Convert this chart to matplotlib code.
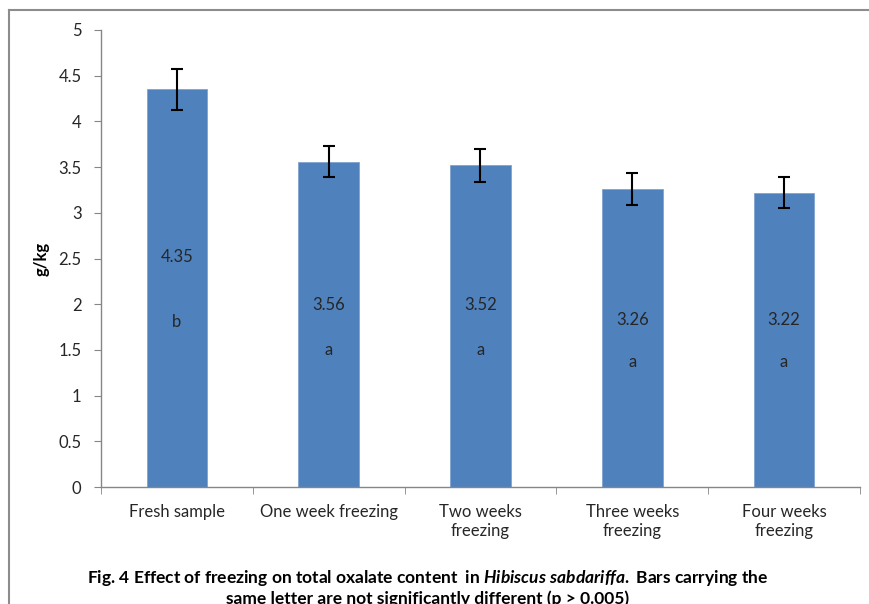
"""Bar chart: effect of freezing on total oxalate content in Hibiscus sabdariffa."""

import matplotlib
matplotlib.use("Agg")
import matplotlib.pyplot as plt
from matplotlib.lines import Line2D

# data
categories = ["Fresh sample", "One week freezing", "Two weeks\nfreezing",
              "Three weeks\nfreezing", "Four weeks\nfreezing"]
oxalate = [4.35, 3.56, 3.52, 3.26, 3.22]
errors = [0.22, 0.17, 0.18, 0.17, 0.17]
value_labels = ["4.35", "3.56", "3.52", "3.26", "3.22"]
letters = ["b", "a", "a", "a", "a"]
yticks = [0, 0.5, 1, 1.5, 2, 2.5, 3, 3.5, 4, 4.5, 5]

# label heights inside the bars (layout)
value_label_y = [2.52, 1.99, 1.99, 1.83, 1.83]
letter_y = [1.80, 1.50, 1.50, 1.37, 1.37]

plt.rcParams["font.family"] = ["Lato", "DejaVu Sans"]
plt.rcParams["mathtext.fontset"] = "custom"
plt.rcParams["mathtext.it"] = "Lato:italic:bold"
plt.rcParams["mathtext.rm"] = "Lato:bold"

axis_grey = "#868686"
bar_blue = "#4F81BD"
text_col = "#262626"

fig = plt.figure(figsize=(8.7, 6.04), dpi=100)
ax = fig.add_axes([101 / 870, 1 - 487 / 604, (860 - 101) / 870, (487 - 30) / 604])

x = list(range(len(categories)))
ax.bar(x, oxalate, width=0.4, color=bar_blue, edgecolor="#7FA3D0", linewidth=0.6, zorder=2)
ax.errorbar(x, oxalate, yerr=errors, fmt="none", ecolor="black",
            elinewidth=1.5, capsize=4, capthick=1.5, zorder=3)

for xi, lab, ly, let, lty in zip(x, value_labels, value_label_y, letters, letter_y):
    ax.text(xi, ly, lab, ha="center", va="center", fontsize=12, color=text_col, zorder=4)
    ax.text(xi, lty, let, ha="center", va="center", fontsize=12, color=text_col, zorder=4)

ax.set_xlim(-0.5, len(categories) - 0.5)
ax.set_ylim(0, 5)
ax.set_yticks(yticks)
ax.set_yticklabels([f"{t:g}" for t in yticks])
ax.tick_params(axis="y", direction="out", length=5, color=axis_grey,
               labelsize=12, labelcolor=text_col, pad=9)

# category labels centred on bars, tick marks between categories
ax.set_xticks(x)
ax.set_xticklabels(categories, fontsize=12, color=text_col, linespacing=1.25)
ax.tick_params(axis="x", length=0, pad=12)
ax.set_xticks([i - 0.5 for i in range(len(categories) + 1)], minor=True)
ax.tick_params(axis="x", which="minor", direction="out", length=5, color=axis_grey)

for side in ["top", "right"]:
    ax.spines[side].set_visible(False)
for side in ["left", "bottom"]:
    ax.spines[side].set_color(axis_grey)
    ax.spines[side].set_linewidth(1.0)

ax.set_ylabel("g/kg", fontsize=12, fontweight="bold", color="black", labelpad=6)

# caption (second line is cut by the lower edge, as in the source figure)
fig.text(428 / 870, 1 - 578 / 604,
         r"Fig. 4 Effect of freezing on total oxalate content  in $\it{Hibiscus\ sabdariffa.}$ Bars carrying the",
         ha="center", va="center", fontsize=12.5, fontweight="bold", color="black")
fig.text(428 / 870, 1 - 599 / 604,
         "same letter are not significantly different (p > 0.005)",
         ha="center", va="center", fontsize=12.5, fontweight="bold", color="black")

# frame around the chart area (left and top edges visible)
fig.add_artist(Line2D([9 / 870, 9 / 870], [0, 1 - 10 / 604], transform=fig.transFigure,
                      color="#8c8c8c", linewidth=1.5))
fig.add_artist(Line2D([9 / 870, 1], [1 - 10 / 604, 1 - 10 / 604], transform=fig.transFigure,
                      color="#8c8c8c", linewidth=1.5))

fig.savefig("out.png", dpi=100)
plt.close(fig)
